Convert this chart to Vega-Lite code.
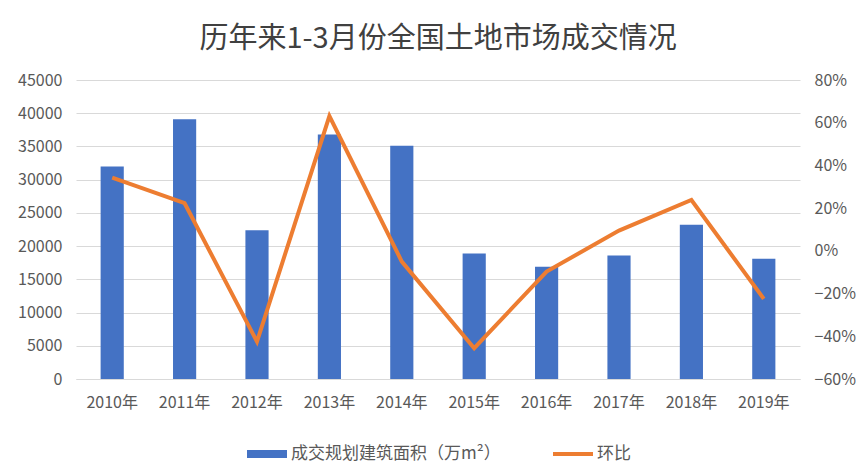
{
  "$schema": "https://vega.github.io/schema/vega-lite/v6.json",
  "autosize": "none",
  "width": 724,
  "height": 299,
  "padding": {"left": 76, "top": 80, "right": 67, "bottom": 94},
  "background": "white",
  "title": {
    "text": "历年来1-3月份全国土地市场成交情况",
    "font": "Noto Sans CJK SC",
    "fontSize": 29,
    "fontWeight": "normal",
    "color": "#404040",
    "offset": 18,
    "anchor": "middle"
  },
  "config": {
    "view": {"stroke": null},
    "font": "Noto Sans CJK SC",
    "axis": {"labelFont": "Noto Sans CJK SC", "labelColor": "#595959", "labelFontSize": 16, "ticks": false, "domain": false, "title": null}
  },
  "data": {
    "values": [
      {"year": "2010年", "area": 32000, "ratio": 0.343},
      {"year": "2011年", "area": 39100, "ratio": 0.223},
      {"year": "2012年", "area": 22400, "ratio": -0.425},
      {"year": "2013年", "area": 36800, "ratio": 0.631},
      {"year": "2014年", "area": 35100, "ratio": -0.05},
      {"year": "2015年", "area": 18900, "ratio": -0.456},
      {"year": "2016年", "area": 16900, "ratio": -0.097},
      {"year": "2017年", "area": 18600, "ratio": 0.095},
      {"year": "2018年", "area": 23200, "ratio": 0.238},
      {"year": "2019年", "area": 18100, "ratio": -0.225}
    ]
  },
  "encoding": {
    "x": {
      "field": "year",
      "type": "nominal",
      "sort": null,
      "scale": {"paddingInner": 0.68, "paddingOuter": 0.34},
      "axis": {"labelAngle": 0, "domain": true, "domainColor": "#d9d9d9", "labelPadding": 15, "grid": false}
    }
  },
  "layer": [
    {
      "mark": {"type": "bar", "color": "#4472C4"},
      "encoding": {
        "y": {
          "field": "area",
          "type": "quantitative",
          "scale": {"domain": [0, 45000], "nice": false},
          "axis": {"values": [0, 5000, 10000, 15000, 20000, 25000, 30000, 35000, 40000, 45000], "format": "d", "grid": true, "gridColor": "#d9d9d9", "labelPadding": 14}
        },
        "color": {
          "datum": "成交规划建筑面积（万m²）",
          "type": "nominal",
          "scale": {"domain": ["成交规划建筑面积（万m²）", "环比"], "range": ["#4472C4", "#ED7D31"]},
          "legend": {
            "orient": "none",
            "legendX": 171,
            "legendY": 354,
            "direction": "horizontal",
            "title": null,
            "labelFont": "Noto Sans CJK SC",
            "labelFontSize": 17,
            "labelColor": "#595959",
            "labelLimit": 400,
            "columnPadding": 52,
            "labelOffset": 4,
            "symbolSize": 1600,
            "symbolStrokeWidth": 0,
            "symbolType": "M-1,-0.2L1,-0.2L1,0.2L-1,0.2Z",
            "encode": {
              "symbols": {
                "update": {
                  "shape": {"signal": "datum.value == '环比' ? 'M-1,-0.1L1,-0.1L1,0.1L-1,0.1Z' : 'M-1,-0.2L1,-0.2L1,0.2L-1,0.2Z'"},
                  "fill": {"signal": "datum.value == '环比' ? '#ED7D31' : '#4472C4'"},
                  "strokeWidth": {"value": 0}
                }
              }
            }
          }
        }
      }
    },
    {
      "mark": {"type": "line", "color": "#ED7D31", "strokeWidth": 4, "strokeJoin": "miter"},
      "encoding": {
        "y": {
          "field": "ratio",
          "type": "quantitative",
          "scale": {"domain": [-0.6, 0.8], "nice": false},
          "axis": {"orient": "right", "values": [-0.6, -0.4, -0.2, 0, 0.2, 0.4, 0.6, 0.8], "format": ".0%", "grid": false, "labelPadding": 14}
        },
        "color": {"datum": "环比", "type": "nominal"}
      }
    }
  ],
  "resolve": {"scale": {"y": "independent"}}
}
